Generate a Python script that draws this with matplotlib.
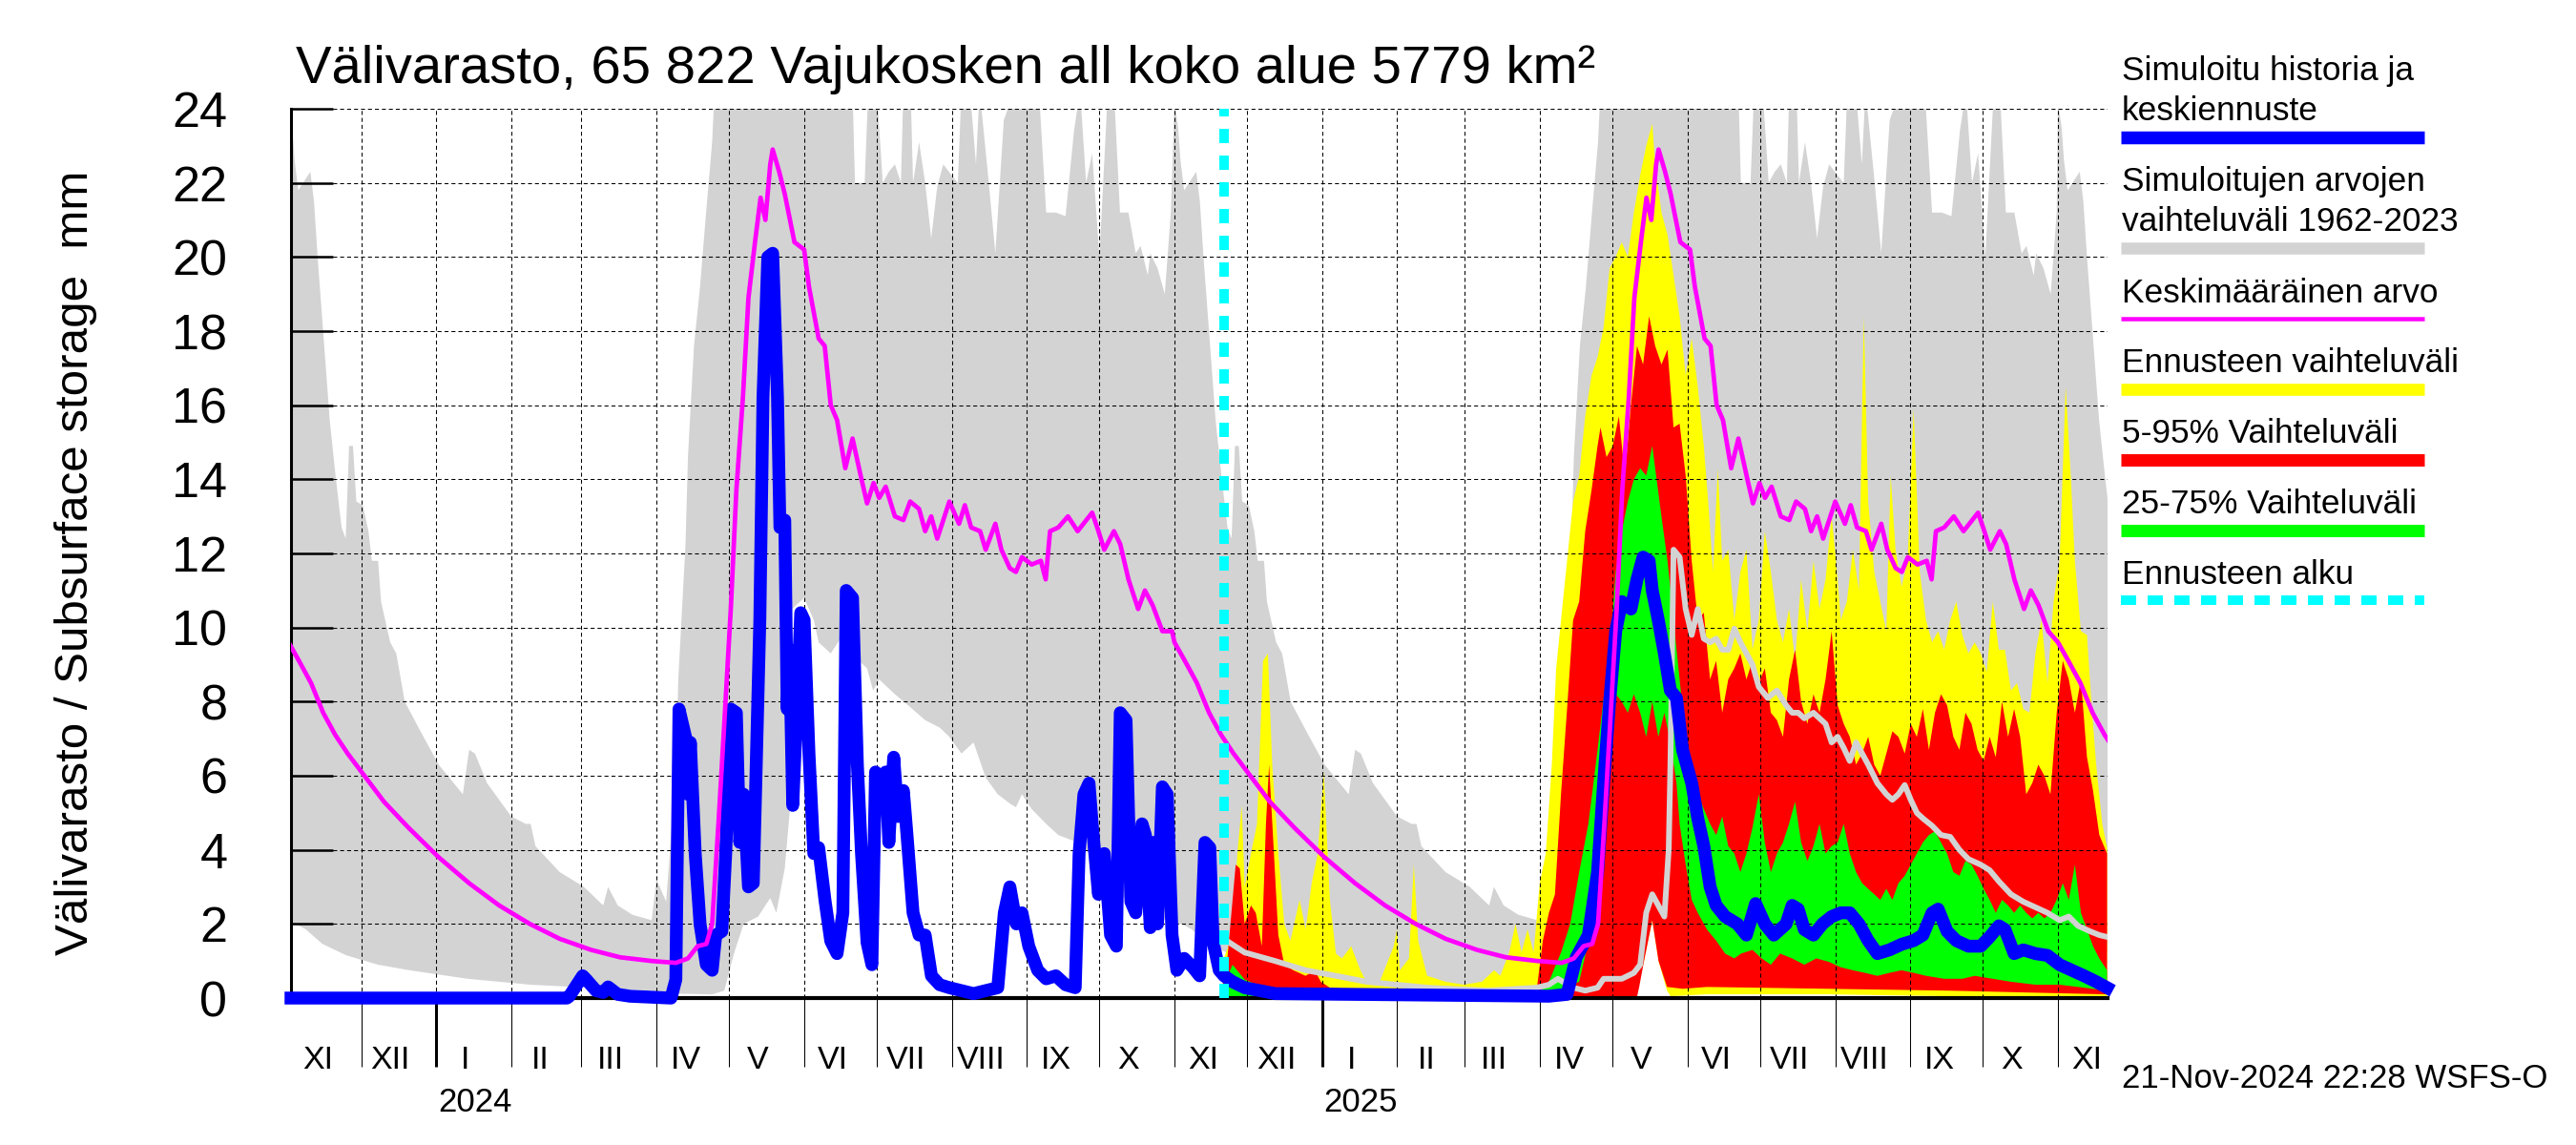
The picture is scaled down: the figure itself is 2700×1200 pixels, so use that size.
import numpy as np
import pandas as pd
import matplotlib
matplotlib.use('Agg')
import matplotlib.pyplot as plt
import matplotlib.dates as mdates
from matplotlib.lines import Line2D
from matplotlib.transforms import blended_transform_factory

plt.rcParams['font.family'] = ['Liberation Sans', 'DejaVu Sans']

# --- climatology 1962-2023, day counted from 1 Nov -------------------------
clim_hi_day = [0, 1.5, 2.5, 4, 6, 9, 10.5, 12, 14.5, 17, 19.4, 21.9, 23.6, 25, 26.6, 28, 30.7, 33, 34.4, 37, 38.2,
               42, 44.5, 48, 54.5, 62, 72, 74.6, 77, 82, 92, 98, 100, 102, 112, 122, 130, 132, 136, 142, 150,
               152, 156, 160, 161, 164, 165, 167.5, 170, 172.5, 175, 176, 190, 205, 220, 233, 234, 238, 239.5,
               243, 244, 245.5, 248, 250.5, 253, 254, 257, 258, 260.5, 263, 265.5, 268, 270.5, 274, 276.5,
               278, 281.5, 284, 285.5, 289, 292, 295.5, 300, 310, 313, 317, 321, 324.5, 327, 329.5, 332, 335,
               338.5, 341, 343.5, 347, 350, 352, 355, 356, 359, 362, 364.5]
clim_hi = [24.2, 23.5, 22.6, 21.8, 22.0, 22.3, 21.5, 20.0, 17.8, 15.6, 14.1, 12.7, 12.4, 14.9, 14.9, 13.4, 13.3, 12.6,
           11.8, 11.8, 10.7, 9.6, 9.3, 8.0, 7.2, 6.3, 5.5, 6.7, 6.6, 5.8, 4.9, 4.7, 4.7, 4.1, 3.4, 3.0, 2.5, 3.0,
           2.5, 2.25, 2.1, 3.2, 2.6, 6.1, 8.6, 12.25, 14.6, 17.6, 19.2, 21.2, 23.1, 24.5, 24.5, 24.5, 24.5, 24.5,
           22.0, 22.0, 24.5, 24.5, 23.5, 22.0, 22.3, 22.5, 22.0, 24.5, 24.5, 22.0, 23.1, 22.0, 20.5, 21.9, 22.5,
           22.2, 22.0, 24.5, 24.5, 22.5, 24.5, 22.2, 20.1, 23.7, 24.5, 24.5, 21.2, 21.2, 21.1, 23.4, 24.5, 22.0,
           22.8, 20.0, 24.5, 24.5, 21.2, 21.2, 20.1, 20.3, 19.5, 20.1, 19.7, 19.0, 21.2]

clim_lo_day = [0, 3, 7, 14, 24, 37, 50, 74, 100, 124, 150, 160, 175, 180, 184, 188, 194, 199, 201.5, 205, 207,
               208, 213, 217, 219, 224, 229, 234, 239, 241.5, 244, 250.5, 256, 263, 269, 273, 278, 283, 288, 293,
               298, 300.5, 303, 307, 313, 318, 326, 331, 336, 341, 346, 351, 356, 361, 365]
clim_lo = [2.0, 2.0, 1.86, 1.46, 1.15, 0.9, 0.75, 0.52, 0.36, 0.28, 0.2, 0.12, 0.1, 0.2, 1.2, 2.0, 2.2, 2.7, 2.3,
           3.5, 5.0, 10.5, 10.8, 10.2, 9.6, 9.3, 9.8, 9.2, 8.9, 8.3, 8.6, 8.2, 7.9, 7.5, 7.3, 7.05, 6.6, 6.9, 5.95,
           5.5, 5.25, 5.15, 5.5, 5.1, 4.7, 4.4, 4.2, 3.9, 3.3, 3.0, 2.65, 2.5, 2.3, 2.15, 2.0]

clim_mean_day = [0, 4.3, 9.3, 14.3, 19.3, 24.4, 31.9, 39.4, 49.5, 62, 74.6, 87, 99.7, 112, 125, 137, 150, 160,
                 165, 169, 172.6, 175, 177.6, 180, 182.7, 185, 187.7, 190, 192.7, 195, 197, 199, 200, 202.7, 205,
                 209, 213, 215, 219, 221.5, 224, 226.6, 230, 233, 236.7, 239, 241.7, 244, 246.7, 250.5, 254,
                 256.8, 260.5, 263, 265.5, 268, 273, 277, 279.4, 282, 285.7, 288, 292, 294.5, 298, 300.5, 303,
                 307, 310.8, 312.8, 314.6, 318, 322, 326, 329.6, 332, 334.6, 337, 341, 343.6, 347, 351, 353.8,
                 357, 361, 365]
clim_mean = [9.6, 9.1, 8.5, 7.7, 7.1, 6.6, 5.95, 5.3, 4.6, 3.8, 3.1, 2.5, 2.0, 1.6, 1.3, 1.1, 1.0, 0.95, 1.07,
             1.4, 1.46, 2.0, 4.7, 7.4, 10.5, 13.7, 16.2, 18.9, 20.4, 21.6, 21.0, 22.5, 22.9, 22.3, 21.7, 20.4,
             20.2, 19.2, 17.8, 17.6, 16.0, 15.6, 14.3, 15.1, 14.0, 13.35, 13.9, 13.5, 13.8, 13.0, 12.9, 13.4,
             13.2, 12.6, 13.0, 12.4, 13.4, 12.8, 13.3, 12.7, 12.6, 12.1, 12.8, 12.1, 11.6, 11.5, 11.9, 11.7,
             11.8, 11.3, 12.6, 12.7, 13.0, 12.6, 12.9, 13.1, 12.6, 12.1, 12.6, 12.25, 11.3, 10.5, 11.0, 10.6,
             9.9, 9.9]

# --- simulated history, days from 1 Nov 2023 --------------------------------
hist_day = [1, 115, 116, 119, 121.5, 123, 125, 127, 130, 132, 136, 141, 158, 160, 161.3, 164, 165, 166, 168,
            170, 172.6, 175, 176.5, 179, 180.6, 182.7, 185, 186.4, 188, 190, 192, 194.7, 196, 198, 200, 202,
            203, 205, 206, 207, 208.3, 210, 211.6, 213, 215, 217, 219, 221.6, 224, 226.6, 229, 230.4, 233, 235,
            236.7, 239, 241, 242.5, 244, 246.7, 248, 250, 251.8, 254, 255.5, 258, 260.5, 263, 265.6, 269, 273,
            278, 283, 288, 293, 295.7, 298, 300.7, 303, 305.8, 309.5, 313, 317, 321, 325, 326.6, 328.6, 330.7,
            332, 334.6, 337, 339.6, 342, 343.6, 346, 348, 350, 352.6, 354, 356, 357, 359, 361, 363, 365, 367,
            370, 373.6, 376.4, 378.6, 380.6, 382, 384.5, 386.5]
hist_val = [0, 0, 0.05, 0.35, 0.6, 0.5, 0.35, 0.2, 0.15, 0.3, 0.1, 0.05, 0.0, 0.5, 7.8, 7.05, 5.5, 6.9, 3.9,
            2.0, 0.9, 0.75, 1.7, 1.8, 3.9, 7.8, 7.7, 4.2, 5.5, 3.0, 3.1, 10.2, 16.2, 20.0, 20.1, 16.2, 12.7,
            12.9, 7.8, 9.4, 5.2, 7.8, 10.4, 10.2, 6.6, 3.9, 4.06, 2.65, 1.54, 1.2, 2.3, 11.0, 10.8, 6.3, 3.9,
            1.5, 0.9, 6.1, 5.5, 6.1, 4.2, 6.5, 4.9, 5.6, 4.4, 2.3, 1.7, 1.7, 0.6, 0.36, 0.28, 0.2, 0.12, 0.2,
            0.28, 2.3, 3.0, 2.0, 2.3, 1.4, 0.75, 0.52, 0.6, 0.36, 0.28, 3.9, 5.5, 5.8, 4.7, 2.8, 3.9, 1.7, 1.4,
            7.7, 7.5, 2.6, 2.3, 4.7, 4.4, 1.9, 4.2, 2.0, 5.7, 5.5, 1.7, 0.75, 1.07, 0.83, 0.6, 4.2, 4.06, 1.5,
            0.75, 0.6]

# --- forecast, days from 21 Nov 2024 -----------------------------------------
med_day = [4.0, 9.0, 21.6, 134.7, 142.2, 146.0, 151.0, 154.8, 157.3, 159.8, 162.3, 164.8, 168.6, 171.1, 173.6,
           176.1, 177.4, 179.9, 182.4, 184.9, 187.4, 189.9, 193.7, 196.2, 198.7, 201.3, 203.8, 207.5, 212.6,
           216.3, 220.1, 223.9, 227.6, 232.7, 235.2, 237.7, 240.2, 244.0, 247.7, 251.5, 255.3, 259.0, 262.8,
           266.6, 270.4, 275.4, 280.4, 285.4, 289.2, 293.0, 295.5, 299.2, 303.0, 308.0, 313.1, 316.8, 320.6,
           323.1, 326.9, 330.7, 335.7, 340.7, 345.7, 350.8, 355.8, 360.8, 365.3]
med_val = [0.44, 0.28, 0.12, 0.05, 0.1, 1.1, 1.7, 3.4, 5.8, 8.0, 9.9, 10.7, 10.5, 11.3, 11.9, 11.8, 11.0, 10.2,
           9.3, 8.3, 8.1, 6.7, 5.8, 4.85, 4.1, 3.0, 2.5, 2.2, 2.0, 1.7, 2.55, 2.0, 1.7, 2.0, 2.5, 2.4, 1.85, 1.7,
           2.0, 2.2, 2.3, 2.3, 2.0, 1.55, 1.2, 1.3, 1.45, 1.55, 1.7, 2.3, 2.4, 1.8, 1.55, 1.4, 1.4, 1.65, 1.95,
           1.85, 1.2, 1.3, 1.2, 1.15, 0.9, 0.75, 0.6, 0.44, 0.28]

fc_max_day = [0, 4.0, 6.0, 7.8, 9.0, 11.6, 14.1, 16.6, 18.6, 20.4, 22.9, 25.4, 27.9, 31.7, 34.2, 36.7, 39.2,
              41.7, 44.2, 46.7, 49.2, 53.0, 56.8, 59.3, 64.3, 70.6, 71.9, 73.1, 76.9, 78.9, 80.7, 84.4, 92.0,
              99.5, 107.0, 112.1, 114.6, 118.3, 120.9, 123.4, 125.9, 128.4, 130.9, 133.4, 135.9, 137.7, 139.7,
              142.2, 144.7, 147.2, 149.7, 152.3, 154.8, 157.3, 159.8, 162.3, 164.8, 167.3, 169.8, 172.4, 174.9,
              177.4, 178.6, 181.2, 183.7, 186.2, 188.7, 191.2, 193.7, 196.2, 198.7, 200.5, 202.5, 204.5, 206.3,
              208.8, 211.3, 213.8, 216.3, 218.8, 221.4, 223.9, 226.4, 228.9, 231.4, 233.9, 236.4, 238.9, 241.5,
              244.0, 246.5, 249.0, 251.5, 253.3, 255.3, 257.8, 260.3, 262.8, 264.8, 266.6, 269.1, 271.6, 274.1,
              275.9, 277.9, 280.4, 282.9, 285.4, 287.9, 290.5, 293.0, 295.5, 298.0, 300.5, 303.0, 305.5, 308.0,
              310.6, 313.1, 315.6, 318.1, 320.6, 323.1, 325.6, 328.1, 330.7, 333.2, 335.7, 338.2, 340.7, 343.2,
              345.7, 348.2, 350.3, 352.0, 354.5, 357.0, 358.8, 360.8, 363.3, 365.3]
fc_max = [1.0, 1.7, 3.9, 5.2, 3.0, 3.9, 4.7, 9.1, 9.3, 6.3, 3.9, 2.0, 1.55, 2.65, 1.85, 3.1, 3.9, 6.1, 2.65, 1.2,
          1.07, 1.4, 0.75, 0.44, 0.36, 1.4, 1.85, 0.75, 1.07, 3.6, 1.55, 0.6, 0.44, 0.36, 0.44, 0.75, 0.6, 1.23,
          2.0, 1.23, 1.85, 1.23, 3.1, 3.9, 6.3, 8.9, 10.2, 11.8, 13.4, 14.1, 15.7, 16.8, 17.3, 18.1, 19.7, 20.0,
          20.4, 20.0, 21.2, 22.2, 23.0, 23.6, 22.5, 21.2, 20.6, 19.5, 18.4, 16.8, 17.8, 16.5, 14.9, 13.4, 11.5,
          14.3, 11.8, 12.1, 10.2, 11.5, 12.1, 9.4, 10.2, 12.6, 11.5, 10.2, 9.6, 10.5, 9.1, 11.3, 9.9, 11.8, 10.5,
          11.3, 13.0, 11.8, 10.2, 10.7, 12.1, 11.0, 18.4, 13.4, 11.5, 10.7, 9.9, 14.1, 12.1, 11.1, 11.8, 15.9,
          11.5, 10.2, 9.6, 9.9, 9.4, 10.2, 10.7, 9.8, 9.3, 9.6, 9.3, 8.8, 10.7, 9.4, 9.4, 8.3, 8.5, 7.8, 7.7, 9.3,
          10.2, 8.5, 10.7, 11.8, 16.5, 14.1, 11.8, 9.9, 9.8, 8.0, 6.3, 4.7, 4.06]
fc_min_day = [0, 142, 170, 174, 177.4, 180, 183.5, 185, 200, 250, 300, 365.3]
fc_min = [0, 0, 0, 1.0, 2.1, 1.0, 0.2, 0.05, 0.1, 0.1, 0.05, 0.02]

p95_day = [0, 1.5, 5.3, 7.0, 9.0, 11.6, 13.6, 16.1, 17.8, 19.1, 21.1, 22.9, 25.4, 29.1, 34.2, 37.9, 40.5, 44.2,
           59.3, 129.6, 132.2, 134.7, 137.2, 139.7, 142.2, 144.7, 147.2, 149.7, 152.3, 154.8, 156.0, 158.5,
           161.1, 163.6, 166.1, 168.6, 171.1, 173.6, 176.1, 178.6, 181.2, 183.7, 186.2, 188.7, 191.2, 193.7,
           196.2, 198.7, 201.3, 203.8, 206.3, 208.8, 211.3, 213.8, 216.3, 218.8, 221.4, 223.9, 226.4, 228.9,
           231.4, 233.9, 236.4, 238.9, 241.5, 244.0, 246.5, 249.0, 251.5, 254.0, 256.5, 259.0, 261.6, 264.1,
           266.6, 269.1, 271.6, 274.1, 276.6, 279.1, 281.7, 284.2, 286.7, 289.2, 291.7, 294.2, 296.7, 299.2,
           301.8, 304.3, 306.8, 309.3, 311.8, 314.3, 316.8, 319.3, 321.9, 324.4, 326.9, 329.4, 331.9, 334.4,
           336.9, 339.4, 341.9, 344.5, 347.0, 349.5, 352.0, 354.5, 357.0, 359.5, 362.1, 365.3]
p95 = [0.5, 0.8, 3.6, 3.5, 2.0, 2.5, 2.3, 1.4, 4.7, 6.3, 3.9, 1.7, 0.9, 0.75, 0.6, 0.75, 0.44, 0.28, 0.2, 0.2,
       1.55, 2.3, 2.8, 5.5, 7.8, 10.2, 10.7, 12.6, 13.7, 14.9, 15.4, 14.6, 14.9, 15.7, 14.1, 16.0, 17.6, 17.1,
       18.4, 17.6, 17.1, 17.5, 15.4, 15.5, 14.1, 11.8, 10.2, 10.4, 8.6, 9.1, 7.7, 8.6, 8.9, 9.3, 8.6, 9.1, 8.5,
       8.9, 7.7, 7.5, 7.05, 8.6, 9.4, 8.0, 7.4, 8.2, 7.7, 8.6, 9.9, 7.9, 7.4, 7.05, 6.3, 6.6, 7.05, 6.3, 6.0,
       6.6, 7.2, 7.05, 6.6, 7.4, 7.05, 7.8, 6.7, 7.7, 8.2, 7.9, 7.05, 6.7, 7.7, 7.4, 6.7, 6.4, 7.05, 6.5, 8.0,
       7.05, 7.8, 7.05, 5.5, 5.8, 6.3, 6.0, 5.5, 7.7, 9.1, 8.6, 7.7, 8.6, 6.5, 5.6, 4.4, 3.9]
p5_day = [0, 171, 172, 174, 177.4, 180, 183.5, 190, 200, 250, 300, 365.3]
p5 = [0, 0, 0.3, 1.0, 2.1, 1.0, 0.3, 0.25, 0.3, 0.25, 0.2, 0.1]

p75_day = [0, 4.0, 9.0, 20.0, 130.0, 134.7, 139.7, 143.5, 147.2, 151.0, 154.8, 157.3, 159.8, 162.3, 164.8,
           167.3, 169.8, 172.4, 174.9, 177.4, 178.6, 181.2, 183.7, 186.2, 188.7, 191.2, 193.7, 196.2, 198.7,
           201.3, 203.8, 206.3, 208.8, 211.3, 213.8, 216.3, 218.8, 221.4, 223.9, 226.4, 228.9, 231.4, 233.9,
           236.4, 238.9, 241.5, 244.0, 246.5, 249.0, 251.5, 254.0, 256.5, 259.0, 261.6, 264.1, 266.6, 269.1,
           271.6, 274.1, 276.6, 279.1, 281.7, 284.2, 286.7, 289.2, 291.7, 294.2, 296.7, 299.2, 301.8, 304.3,
           306.8, 309.3, 311.8, 314.3, 316.8, 319.3, 321.9, 324.4, 326.9, 329.4, 331.9, 334.4, 336.9, 339.4,
           341.9, 344.5, 347.0, 349.5, 352.0, 354.5, 357.0, 359.5, 362.1, 365.3]
p75 = [0.3, 0.9, 0.5, 0.2, 0.1, 0.44, 1.23, 2.0, 3.4, 4.7, 6.7, 8.1, 9.3, 11.5, 12.6, 13.4, 14.0, 14.3, 14.1,
       14.9, 14.3, 13.0, 11.8, 10.2, 8.6, 7.0, 6.1, 5.5, 5.1, 4.7, 4.4, 4.9, 4.1, 3.9, 3.4, 3.9, 4.6, 5.5, 4.2,
       3.4, 3.9, 4.2, 4.7, 5.3, 4.2, 3.7, 4.1, 4.7, 3.9, 4.1, 4.2, 4.7, 3.9, 3.4, 3.1, 2.95, 2.8, 2.65, 2.95,
       2.65, 3.1, 3.3, 3.6, 3.9, 4.2, 4.4, 4.5, 4.2, 3.9, 3.4, 3.3, 3.7, 3.6, 3.3, 2.95, 2.65, 2.3, 2.65, 2.5,
       2.3, 2.5, 2.3, 2.15, 2.3, 2.15, 2.3, 2.65, 3.1, 2.65, 3.6, 2.3, 1.85, 1.4, 1.07, 0.75]
p25_day = [0, 130, 147.2, 154.8, 157.3, 159.8, 162.3, 164.8, 167.3, 169.8, 172.4, 174.9, 177.4, 179.9, 182.4,
           184.9, 187.4, 188.7, 191.2, 193.7, 196.2, 200.0, 203.8, 207.5, 211.3, 214.1, 218.8, 222.6, 226.4,
           230.2, 235.2, 240.2, 245.2, 250.3, 255.3, 260.3, 265.3, 270.4, 275.4, 280.4, 285.4, 290.5, 298.0,
           305.5, 310.6, 318.1, 325.6, 335.7, 345.7, 355.8, 365.3]
p25 = [0, 0, 0.44, 2.6, 5.5, 7.4, 8.2, 8.0, 7.7, 8.2, 7.7, 7.05, 8.0, 7.05, 7.7, 6.9, 5.8, 4.7, 3.6, 2.65, 2.3,
       1.85, 1.55, 1.2, 1.07, 1.2, 1.3, 1.07, 0.9, 1.2, 1.07, 0.9, 1.07, 0.98, 0.83, 0.75, 0.68, 0.6, 0.68,
       0.75, 0.68, 0.6, 0.52, 0.52, 0.6, 0.52, 0.44, 0.36, 0.36, 0.28, 0.2]

gray_day = [1.5, 9.0, 21.6, 34.2, 46.7, 59.3, 71.9, 84.4, 109.5, 129.6, 134.7, 138.4, 144.7, 149.7, 154.8,
            157.3, 164.8, 169.8, 172.4, 174.9, 177.4, 179.9, 182.4, 184.2, 184.9, 186.2, 188.7, 191.2, 193.7,
            196.2, 198.7, 201.3, 203.8, 206.3, 208.8, 211.3, 213.8, 216.3, 218.8, 221.4, 225.1, 228.9, 232.7,
            235.2, 237.7, 240.2, 244.0, 246.5, 249.0, 251.5, 254.0, 256.5, 259.0, 261.6, 264.1, 266.6, 270.4,
            274.1, 276.6, 279.1, 281.7, 284.2, 286.7, 289.2, 293.0, 296.7, 300.5, 304.3, 308.0, 313.1, 316.8,
            320.6, 325.6, 330.7, 335.7, 340.7, 345.7, 349.5, 353.3, 358.3, 362.1, 365.3]
gray_val = [1.55, 1.23, 1.0, 0.75, 0.6, 0.44, 0.36, 0.28, 0.2, 0.28, 0.36, 0.52, 0.28, 0.2, 0.28, 0.52, 0.52,
            0.68, 0.9, 2.3, 2.8, 2.5, 2.2, 4.0, 6.3, 12.1, 11.9, 10.5, 9.8, 10.5, 9.7, 9.6, 9.7, 9.4, 9.4, 9.97,
            9.6, 9.3, 9.0, 8.4, 8.1, 8.3, 7.9, 7.7, 7.7, 7.55, 7.7, 7.55, 7.4, 6.9, 7.05, 6.75, 6.4, 6.9, 6.6,
            6.3, 5.8, 5.5, 5.35, 5.5, 5.75, 5.35, 5.0, 4.85, 4.65, 4.4, 4.35, 4.0, 3.75, 3.6, 3.45, 3.15, 2.8,
            2.6, 2.45, 2.3, 2.1, 2.2, 1.95, 1.8, 1.7, 1.65]

season_starts = ['2023-11-01', '2024-11-01', '2025-11-01', '2026-11-01']
hist_start = pd.Timestamp('2023-11-01')
fc_start = pd.Timestamp('2024-11-21')
month_names = ['I', 'II', 'III', 'IV', 'V', 'VI', 'VII', 'VIII', 'IX', 'X', 'XI', 'XII']


def to_num(start, days):
    return mdates.date2num(start + pd.to_timedelta(np.array(days, dtype=float), unit='D'))


def tile(days, vals):
    # same climatology repeated for every season starting 1 Nov
    xs, ys = [], []
    for s0, s1 in zip(season_starts[:-1], season_starts[1:]):
        n = (pd.Timestamp(s1) - pd.Timestamp(s0)).days
        d = np.array(days, dtype=float)
        keep = d < n
        xs.append(to_num(pd.Timestamp(s0), d[keep]))
        ys.append(np.array(vals)[keep])
    return np.concatenate(xs), np.concatenate(ys)


def band(ax, xh, yh, xl, yl, color, z):
    ax.fill(np.concatenate([xh, xl[::-1]]), np.concatenate([yh, yl[::-1]]),
            color=color, lw=0, zorder=z)


fig = plt.figure(figsize=(27, 12), dpi=100)
ax = fig.add_axes([305 / 2700, 1 - 1046 / 1200, 1904 / 2700, 932 / 1200])

xh, yh = tile(clim_hi_day, clim_hi)
xl, yl = tile(clim_lo_day, clim_lo)
band(ax, xh, yh, xl, yl, '#d3d3d3', 1.0)

band(ax, to_num(fc_start, fc_max_day), np.array(fc_max), to_num(fc_start, fc_min_day), np.array(fc_min), '#ffff00', 1.1)
band(ax, to_num(fc_start, p95_day), np.array(p95), to_num(fc_start, p5_day), np.array(p5), '#ff0000', 1.2)
band(ax, to_num(fc_start, p75_day), np.array(p75), to_num(fc_start, p25_day), np.array(p25), '#00ff00', 1.3)

ax.plot(to_num(fc_start, gray_day), gray_val, color='#d3d3d3', lw=4.3, zorder=2)

blue_x = np.concatenate([to_num(hist_start, hist_day), to_num(fc_start, med_day)])
blue_y = np.concatenate([hist_val, med_val])
ax.plot(blue_x, blue_y, color='#0000ff', lw=9.7, zorder=4, clip_on=False)

mx, my = tile(clim_mean_day, clim_mean)
ax.plot(mx, my, color='#ff00ff', lw=3.4, zorder=5)

fc_num = mdates.date2num(fc_start + pd.Timedelta(hours=10))
ax.axvline(fc_num, color='#00ffff', lw=7.2, ls=(0, (1.5, 1.3)), zorder=6)

x0 = mdates.date2num(pd.Timestamp('2023-11-02'))
x1 = mdates.date2num(pd.Timestamp('2025-11-21 12:00'))
ax.set_xlim(x0, x1)
ax.set_ylim(0, 24)

months = pd.date_range('2023-11-01', '2025-11-01', freq='MS')
years = [pd.Timestamp('2024-01-01'), pd.Timestamp('2025-01-01')]
ax.set_xticks(mdates.date2num(years))
ax.set_xticks(mdates.date2num(months[1:]), minor=True)
ax.set_xticklabels([])
ax.tick_params(axis='x', which='major', direction='out', length=52, width=2.2)
ax.tick_params(axis='x', which='minor', direction='out', length=52, width=0.75)
ax.set_yticks(range(0, 25, 2))
ax.tick_params(axis='y', direction='in', length=32, width=1.8, pad=48, labelsize=37.5)
ax.grid(True, axis='x', which='both', color='black', lw=0.75, ls=(0, (4, 3)))
ax.grid(True, axis='y', which='major', color='black', lw=0.75, ls=(0, (4, 3)))
for s in ['top', 'right']:
    ax.spines[s].set_visible(False)
ax.spines['left'].set_linewidth(2.2)
ax.spines['bottom'].set_linewidth(3)

tr = blended_transform_factory(ax.transData, fig.transFigure)
for m in months:
    ax.text(mdates.date2num(m + pd.Timedelta(days=12)), 1 - 1120 / 1200, month_names[m.month - 1],
            transform=tr, ha='center', va='baseline', fontsize=24.5)
for y in years:
    ax.text(mdates.date2num(y + pd.Timedelta(days=16)), 1 - 1165 / 1200, str(y.year),
            transform=tr, ha='center', va='baseline', fontsize=25)

fig.text(310 / 2700, 1 - 87 / 1200, 'Välivarasto, 65 822 Vajukosken all koko alue 5779 km²',
         fontsize=40.5, ha='left', va='baseline')
fig.text(80 / 2700, 1 - 590 / 1200, 'Välivarasto / Subsurface storage  mm', rotation=90,
         fontsize=35.5, ha='center', va='center')
fig.text(2224 / 2700, 1 - 1140 / 1200, '21-Nov-2024 22:28 WSFS-O', fontsize=25, ha='left', va='baseline')

# legend, drawn by hand on the right
legend_rows = [
    (['Simuloitu historia ja', 'keskiennuste'], [83.6, 125.7], 144, '#0000ff', 13.5, '-'),
    (['Simuloitujen arvojen', 'vaihteluväli 1962-2023'], [200, 242], 260, '#d3d3d3', 12.5, '-'),
    (['Keskimääräinen arvo'], [317], 334, '#ff00ff', 4.5, '-'),
    (['Ennusteen vaihteluväli'], [390.5], 408, '#ffff00', 12.6, '-'),
    (['5-95% Vaihteluväli'], [464], 482, '#ff0000', 13, '-'),
    (['25-75% Vaihteluväli'], [538], 556, '#00ff00', 13, '-'),
    (['Ennusteen alku'], [612.5], 629, '#00ffff', 10, (0, (1.6, 1.2))),
]
for texts, ys, ybar, col, thick, ls in legend_rows:
    for t, yy in zip(texts, ys):
        fig.text(2224 / 2700, 1 - yy / 1200, t, fontsize=25.4, ha='left', va='baseline')
    fig.add_artist(Line2D([2223 / 2700, 2541 / 2700], [1 - ybar / 1200, 1 - ybar / 1200],
                          transform=fig.transFigure, color=col, lw=thick * 0.72, ls=ls,
                          solid_capstyle='butt', dash_capstyle='butt'))

fig.savefig('out.png', dpi=100)
